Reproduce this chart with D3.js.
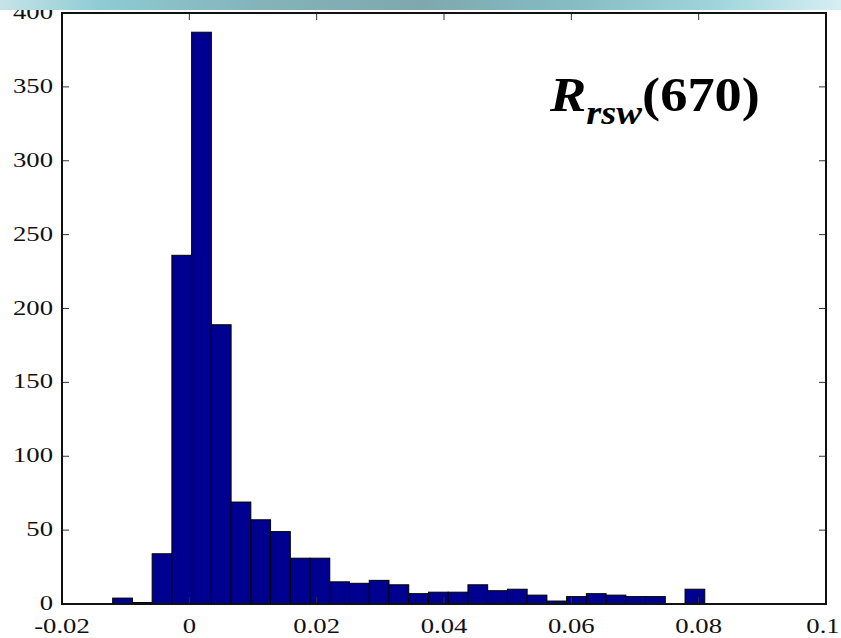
<!DOCTYPE html>
<html>
<head>
<meta charset="utf-8">
<script src="https://cdn.jsdelivr.net/npm/d3@7"></script>
<style>
html,body{margin:0;padding:0;background:#fff;}
svg{display:block;}
</style>
</head>
<body>
<svg id="chart" width="841" height="638"></svg>
<script>
// ---- data ----
const binEdges = [-0.01204,-0.00894,-0.00584,-0.00274,0.00036,0.00346,0.00656,0.00966,0.01276,0.01586,
  0.01896,0.02206,0.02516,0.02826,0.03136,0.03446,0.03756,0.04066,0.04376,0.04686,
  0.04996,0.05306,0.05616,0.05926,0.06236,0.06546,0.06856,0.07166,0.07476,0.07786,0.08096];
const counts = [4,1,34,236,387,189,69,57,49,31,31,15,14,16,13,7,8,8,13,9,10,6,2,5,7,6,5,5,0,10];
const xTicks = [-0.02,0,0.02,0.04,0.06,0.08,0.1];
const xTickLabels = ["-0.02","0","0.02","0.04","0.06","0.08","0.1"];
const yTicks = [0,50,100,150,200,250,300,350,400];
const yTickLabels = ["0","50","100","150","200","250","300","350","400"];

const bins = counts.map((c,i)=>({x0:binEdges[i], x1:binEdges[i+1], n:c}));

const svg = d3.select("#chart");
const L=62, R=826, T=13, B=604;
const x = d3.scaleLinear().domain([-0.02,0.1]).range([L,R]);
const y = d3.scaleLinear().domain([0,400]).range([B,T]);

const font = "'Liberation Serif','Times New Roman',Times,serif";

function measure(txt, size){
  const t = svg.append("text").attr("font-family",font).attr("font-size",size).text(txt);
  const w = t.node().getComputedTextLength(); t.remove(); return w;
}
const tickSize = 21;
const sx = Math.min(1.4, Math.max(0.8, 40 / measure("350", tickSize)));

// bars
svg.append("g").selectAll("rect").data(bins.filter(d=>d.n>0)).join("rect")
  .attr("x", d=>x(d.x0)).attr("width", d=>x(d.x1)-x(d.x0))
  .attr("y", d=>y(d.n)).attr("height", d=>y(0)-y(d.n))
  .attr("fill","#000090").attr("stroke","#000").attr("stroke-width",1);

// ticks inward
const tl = 7;
const tg = svg.append("g").attr("stroke","#333").attr("stroke-width",1);
xTicks.forEach(t=>{
  tg.append("line").attr("x1",x(t)).attr("x2",x(t)).attr("y1",B).attr("y2",B-tl);
  tg.append("line").attr("x1",x(t)).attr("x2",x(t)).attr("y1",T).attr("y2",T+tl);
});
yTicks.forEach(t=>{
  tg.append("line").attr("x1",L).attr("x2",L+tl).attr("y1",y(t)).attr("y2",y(t));
  tg.append("line").attr("x1",R).attr("x2",R-tl).attr("y1",y(t)).attr("y2",y(t));
});

// box
svg.append("rect").attr("x",L).attr("y",T).attr("width",R-L).attr("height",B-T)
  .attr("fill","none").attr("stroke","#111").attr("stroke-width",2);

// tick labels
svg.append("g").selectAll("text").data(xTicks).join("text")
  .attr("transform", (d,i)=>`translate(${Math.min(x(d), 823)},633) scale(${sx},1)`)
  .attr("text-anchor","middle").attr("font-family",font).attr("font-size",tickSize)
  .attr("fill","#111").text((d,i)=>xTickLabels[i]);
svg.append("g").selectAll("text").data(yTicks).join("text")
  .attr("transform", d=>`translate(53,${y(d)+6}) scale(${sx},1)`)
  .attr("text-anchor","end").attr("font-family",font).attr("font-size",tickSize)
  .attr("fill","#111").text((d,i)=>yTickLabels[i]);

// annotation
const ann = svg.append("text").attr("font-family",font).attr("font-weight","bold").attr("fill","#000");
ann.append("tspan").attr("font-style","italic").attr("font-size",48).text("R");
ann.append("tspan").attr("font-style","italic").attr("font-size",34).attr("dy",13).text("rsw");
ann.append("tspan").attr("font-size",48).attr("dy",-13).text("(670)");
const aw = ann.node().getComputedTextLength();
const asx = Math.min(1.5, Math.max(0.8, 210 / aw));
ann.attr("transform",`translate(550,111) scale(${asx},1)`);

// top gradient band (slide header)
const defs = svg.append("defs");
const grad = defs.append("linearGradient").attr("id","band").attr("x1","0").attr("x2","1").attr("y1","0").attr("y2","0");
[[0,"#c6e4e9"],[0.12,"#8ecbd3"],[0.3,"#84b4bb"],[0.5,"#7ea8ae"],[0.68,"#85bcc4"],[0.85,"#9fd4dc"],[1,"#d6eff3"]]
  .forEach(s=>grad.append("stop").attr("offset",s[0]).attr("stop-color",s[1]));
svg.append("rect").attr("x",0).attr("y",0).attr("width",841).attr("height",10).attr("fill","url(#band)");
</script>
</body>
</html>
